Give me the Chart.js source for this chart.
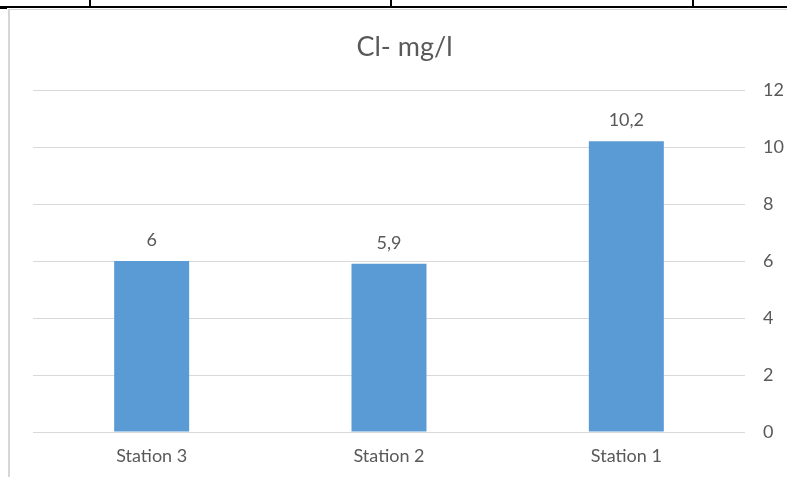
<!DOCTYPE html>
<html><head><meta charset="utf-8">
<script src="https://cdn.jsdelivr.net/npm/chart.js@4/dist/chart.umd.min.js"></script>
<style>
html,body{margin:0;padding:0;background:#fff;width:787px;height:477px;overflow:hidden;}
#wrap{position:absolute;left:10px;top:10px;width:777px;height:467px;}
.bl{position:absolute;background:#000;}
.gr{position:absolute;background:#d6d6d6;}
</style></head><body>
<div class="bl" style="left:0;top:6px;width:787px;height:2px"></div>
<div class="bl" style="left:0;top:8px;width:7px;height:1px"></div>
<div class="bl" style="left:89px;top:0;width:2px;height:7px"></div>
<div class="bl" style="left:390px;top:0;width:2px;height:7px"></div>
<div class="bl" style="left:692px;top:0;width:2px;height:7px"></div>
<div class="gr" style="left:8px;top:9px;width:2px;height:468px"></div>
<div class="gr" style="left:8px;top:9px;width:779px;height:1px"></div>
<div id="wrap"><canvas id="c"></canvas></div>
<script>
const titleText = "Cl- mg/l";
const categories = ["Station 3", "Station 2", "Station 1"];
const values = [6, 5.9, 10.2];
const yTicks = [0, 2, 4, 6, 8, 10, 12];

const textColor = "#595959";
const fontFamily = "Lato, 'Open Sans', sans-serif";

const dataLabelPlugin = {
  id: "dataLabels",
  afterDatasetsDraw(chart) {
    const ctx = chart.ctx;
    const meta = chart.getDatasetMeta(0);
    ctx.save();
    ctx.fillStyle = textColor;
    ctx.font = "18px " + fontFamily;
    ctx.textAlign = "center";
    ctx.textBaseline = "middle";
    meta.data.forEach((bar, i) => {
      const label = String(values[i]).replace(".", ",");
      ctx.fillText(label, bar.x, bar.y - 21);
    });
    ctx.restore();
  }
};

new Chart(document.getElementById("c"), {
  type: "bar",
  data: {
    labels: categories,
    datasets: [{
      data: values,
      backgroundColor: "#5B9BD5",
      borderWidth: 0,
      barPercentage: 1,
      categoryPercentage: 0.316
    }]
  },
  options: {
    responsive: true,
    maintainAspectRatio: false,
    animation: false,
    layout: { padding: { left: 12, right: 0, top: 0, bottom: 0 } },
    plugins: {
      legend: { display: false },
      tooltip: { enabled: false },
      title: {
        display: true,
        text: titleText,
        color: textColor,
        font: { family: fontFamily, size: 27, weight: "normal", lineHeight: 1.2 },
        padding: { top: 21, bottom: 26.6 }
      }
    },
    scales: {
      x: {
        grid: { display: false, drawTicks: false },
        border: { display: false },
        ticks: { color: textColor, font: { family: fontFamily, size: 18 }, padding: 13 },
        afterFit(s) { s.height = 45; }
      },
      y: {
        position: "right",
        min: 0,
        max: 12,
        afterBuildTicks(s) { s.ticks = yTicks.map(v => ({ value: v })); },
        grid: { color: "#d9d9d9", drawTicks: false },
        border: { display: false },
        ticks: { color: textColor, font: { family: fontFamily, size: 18 }, padding: 18 },
        afterFit(s) { s.width = 42; }
      },
      pad: {
        type: "linear",
        position: "left",
        display: true,
        grid: { display: false, drawTicks: false },
        border: { display: false },
        ticks: { display: false },
        afterFit(s) { s.width = 11; }
      }
    }
  },
  plugins: [dataLabelPlugin]
});
</script>
</body></html>
